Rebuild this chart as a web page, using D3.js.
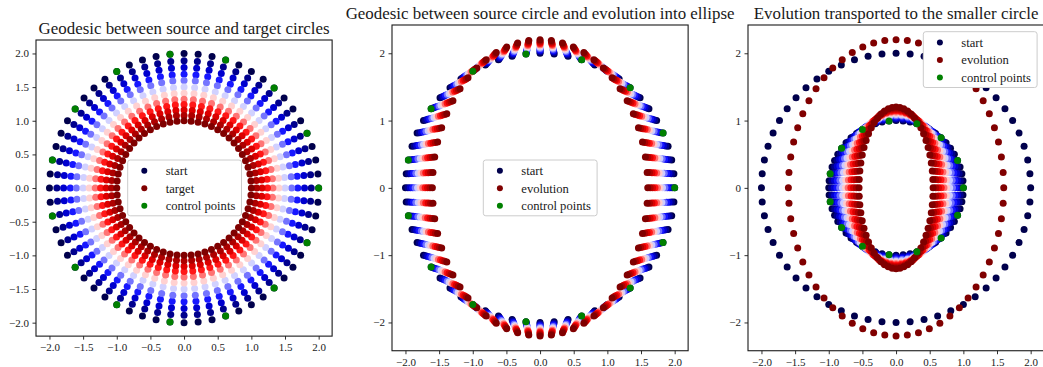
<!DOCTYPE html>
<html lang="en">
<head>
    <meta charset="UTF-8">
    <title>Geodesics between curves</title>
    <style>
        body { margin: 0; background: #fff; }
        svg text { font-family: "Liberation Serif", "Times New Roman", serif; fill: #1a1a1a; }
    </style>
</head>
<body>
    <svg id="fig" width="1043" height="367"></svg>

    <script src="https://d3js.org/d3.v7.min.js"></script>
    <script>
        // Data
        // angle (degrees) of the 60 sample points on each curve
        const angles = [0, 6, 12, 18, 24, 30, 36, 42, 48, 54, 60, 66, 72, 78, 84, 90, 96, 102, 108, 114,
            120, 126, 132, 138, 144, 150, 156, 162, 168, 174, 180, 186, 192, 198, 204, 210, 216, 222, 228, 234,
            240, 246, 252, 258, 264, 270, 276, 282, 288, 294, 300, 306, 312, 318, 324, 330, 336, 342, 348, 354];
        // control points sit on every 4th sample
        const controlAngles = [0, 24, 48, 72, 96, 120, 144, 168, 192, 216, 240, 264, 288, 312, 336];
        // radius at each step of the geodesic between the two circles (panel 1)
        const geodesicRadii = [2.0, 1.89, 1.79, 1.69, 1.60, 1.50, 1.41, 1.32, 1.24, 1.16, 1.08, 1.0];
        // time steps of the geodesics in panels 2 and 3
        const steps = [0, 0.09, 0.18, 0.27, 0.36, 0.45, 0.55, 0.64, 0.73, 0.82, 0.91, 1];
        const sourceRadius = 2;
        const smallRadius = 1;
        const evolutionAxes = [1.6, 2.2];     // ellipse semi axes (x, y)
        const transportedAxes = [0.55, 1.2];  // evolution moved onto the small circle

        const titles = [
            "Geodesic between source and target circles",
            "Geodesic between source circle and evolution into ellipse",
            "Evolution transported to the smaller circle"
        ];
        const legendLabels = [
            ["start", "target", "control points"],
            ["start", "evolution", "control points"],
            ["start", "evolution", "control points"]
        ];
        const xTicks = [-2, -1.5, -1, -0.5, 0, 0.5, 1, 1.5, 2];
        const yTicksFine = [-2, -1.5, -1, -0.5, 0, 0.5, 1, 1.5, 2];
        const yTicksCoarse = [-2, -1, 0, 1, 2];

        // Layout
        const k = 67.3; // px per unit, equal aspect
        const panels = [
            { left: 36, top: 40, yMax: 2.2, yTicks: yTicksFine, yFmt: ".1f", legend: [127.7, 160], titleY: 34 },
            { left: 392, top: 25, yMax: 2.42, yTicks: yTicksCoarse, yFmt: "d", legend: [483.3, 160], titleY: 19 },
            { left: 748, top: 25, yMax: 2.42, yTicks: yTicksCoarse, yFmt: "d", legend: [923.3, 31.7], titleY: 19 }
        ];

        const seismic = d3.scaleLinear()
            .domain([0, 0.25, 0.5, 0.75, 1])
            .range(["#00004c", "#0000ff", "#ffffff", "#ff0000", "#800000"]);
        const green = "#008000";
        const dotR = 3.5;

        const svg = d3.select("#fig");

        const onCurve = (ax, ay, deg) => {
            const a = deg * Math.PI / 180;
            return [ax * Math.cos(a), ay * Math.sin(a)];
        };
        const lerp = (p, q, t) => [p[0] + t * (q[0] - p[0]), p[1] + t * (q[1] - p[1])];

        // layers of [points, color] for each panel
        const layers = [[], [], []];

        geodesicRadii.forEach((r, i) => {
            layers[0].push([angles.map(a => onCurve(r, r, a)), seismic(i / (geodesicRadii.length - 1))]);
        });
        layers[0].push([controlAngles.map(a => onCurve(sourceRadius, sourceRadius, a)), green]);

        steps.forEach(t => {
            const pts = angles.map(a => lerp(onCurve(sourceRadius, sourceRadius, a),
                onCurve(evolutionAxes[0], evolutionAxes[1], a), t));
            layers[1].push([pts, seismic(t)]);
        });
        layers[1].push([controlAngles.map(a => onCurve(sourceRadius, sourceRadius, a)), green]);

        layers[2].push([angles.map(a => onCurve(sourceRadius, sourceRadius, a)), seismic(0)]);
        layers[2].push([angles.map(a => onCurve(evolutionAxes[0], evolutionAxes[1], a)), seismic(1)]);
        steps.forEach(t => {
            const pts = angles.map(a => lerp(onCurve(smallRadius, smallRadius, a),
                onCurve(transportedAxes[0], transportedAxes[1], a), t));
            layers[2].push([pts, seismic(t)]);
        });
        layers[2].push([controlAngles.map(a => onCurve(smallRadius, smallRadius, a)), green]);

        panels.forEach((p, idx) => {
            const w = 4.4 * k, h = 2 * p.yMax * k;
            const x = d3.scaleLinear().domain([-2.2, 2.2]).range([p.left, p.left + w]);
            const y = d3.scaleLinear().domain([-p.yMax, p.yMax]).range([p.top + h, p.top]);
            const g = svg.append("g");

            g.append("clipPath").attr("id", "clip" + idx)
                .append("rect").attr("x", p.left).attr("y", p.top).attr("width", w).attr("height", h);

            const plot = g.append("g").attr("clip-path", "url(#clip" + idx + ")");
            layers[idx].forEach(([pts, color]) => {
                plot.append("g").selectAll("circle")
                    .data(pts)
                    .join("circle")
                    .attr("cx", d => x(d[0]))
                    .attr("cy", d => y(d[1]))
                    .attr("r", dotR)
                    .attr("fill", color);
            });

            // axes
            const xAxis = g.append("g")
                .attr("transform", "translate(0," + (p.top + h) + ")")
                .call(d3.axisBottom(x).tickValues(xTicks).tickFormat(d3.format(".1f"))
                    .tickSize(3.5).tickSizeOuter(0).tickPadding(3.5));
            const yAxis = g.append("g")
                .attr("transform", "translate(" + p.left + ",0)")
                .call(d3.axisLeft(y).tickValues(p.yTicks).tickFormat(d3.format(p.yFmt))
                    .tickSize(3.5).tickSizeOuter(0).tickPadding(3.5));
            [xAxis, yAxis].forEach(ax => {
                ax.select(".domain").remove();
                ax.selectAll("line").attr("stroke", "#1a1a1a").attr("stroke-width", 0.9);
                ax.selectAll("text").attr("font-size", 11)
                    .attr("font-family", "Liberation Serif").attr("fill", "#1a1a1a");
            });

            // frame
            g.append("rect")
                .attr("x", p.left).attr("y", p.top)
                .attr("width", w).attr("height", h)
                .attr("fill", "none")
                .attr("stroke", "#1a1a1a")
                .attr("stroke-width", 1.1);

            // title
            g.append("text")
                .attr("x", p.left + w / 2)
                .attr("y", p.titleY)
                .attr("text-anchor", "middle")
                .attr("font-size", 16.9)
                .text(titles[idx]);

            // legend
            const [lx, ly] = p.legend;
            const lg = g.append("g").attr("transform", "translate(" + lx + "," + ly + ")");
            lg.append("rect")
                .attr("width", 113.8).attr("height", 55.8)
                .attr("rx", 2.5)
                .attr("fill", "#fff")
                .attr("stroke", "#cccccc")
                .attr("stroke-width", 1);
            const legendColors = [seismic(0), seismic(1), green];
            legendLabels[idx].forEach((label, i) => {
                const ry = 10.7 + i * 17.5;
                lg.append("circle").attr("cx", 16.6).attr("cy", ry).attr("r", 3).attr("fill", legendColors[i]);
                lg.append("text")
                    .attr("x", 38).attr("y", ry)
                    .attr("dy", "0.35em")
                    .attr("font-size", 12.6)
                    .text(label);
            });
        });
    </script>
</body>
</html>
